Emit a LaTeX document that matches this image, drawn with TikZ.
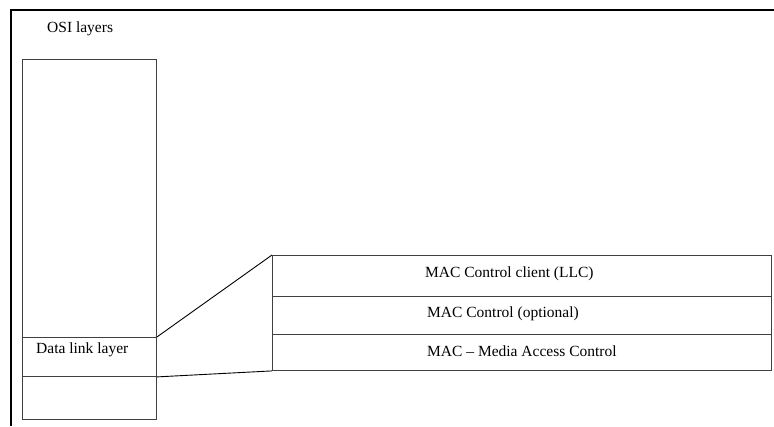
\documentclass[tikz,border=0pt]{standalone}
\usepackage{fontspec}
\setmainfont{Liberation Serif}
\begin{document}
\begin{tikzpicture}[x=1pt,y=-1pt,
  layerbox/.style={draw=black!75, line width=0.9pt, inner sep=0pt, anchor=north west},
  caption/.style={inner sep=0pt, anchor=base west, font=\fontsize{15.5}{18}\selectfont},
  frameline/.style={line width=2.4pt, black},
  link/.style={line width=0.9pt, black}]
\useasboundingbox (0,0) rectangle (774,426);

% outer frame: top and left edges only
\coordinate (frametop) at (774,10);
\coordinate (corner) at (11,10);
\coordinate (framebottom) at (11,426);
\draw[frameline] (frametop) -- (corner) -- (framebottom);

% OSI layer column
\node[layerbox, minimum width=134pt, minimum height=278pt] (upper) at (22,59) {};
\node[layerbox, minimum width=134pt, minimum height=39pt] (datalink) at (22,337) {};
\node[layerbox, minimum width=134pt, minimum height=43pt] (lower) at (22,376) {};

% expanded data link sublayers
\node[layerbox, minimum width=499pt, minimum height=41pt] (llc) at (272,255) {};
\node[layerbox, minimum width=499pt, minimum height=38pt] (macctl) at (272,296) {};
\node[layerbox, minimum width=499pt, minimum height=36pt] (mac) at (272,334) {};

% labels
\node[caption] (osititle) at (47,32.3) {OSI layers};
\node[caption] (dltext) at (36,353.3) {Data link layer};
\node[caption] (llctext) at (425,277.3) {MAC Control client (LLC)};
\node[caption] (ctltext) at (427,317.3) {MAC Control (optional)};
\node[caption] (mactext) at (427,356.7) {MAC – Media Access Control};

% zoom lines from the data link layer to its sublayers
\draw[link] (datalink.north east) -- (llc.north west);
\draw[link] (datalink.south east) -- (mac.south west);
\end{tikzpicture}
\end{document}
